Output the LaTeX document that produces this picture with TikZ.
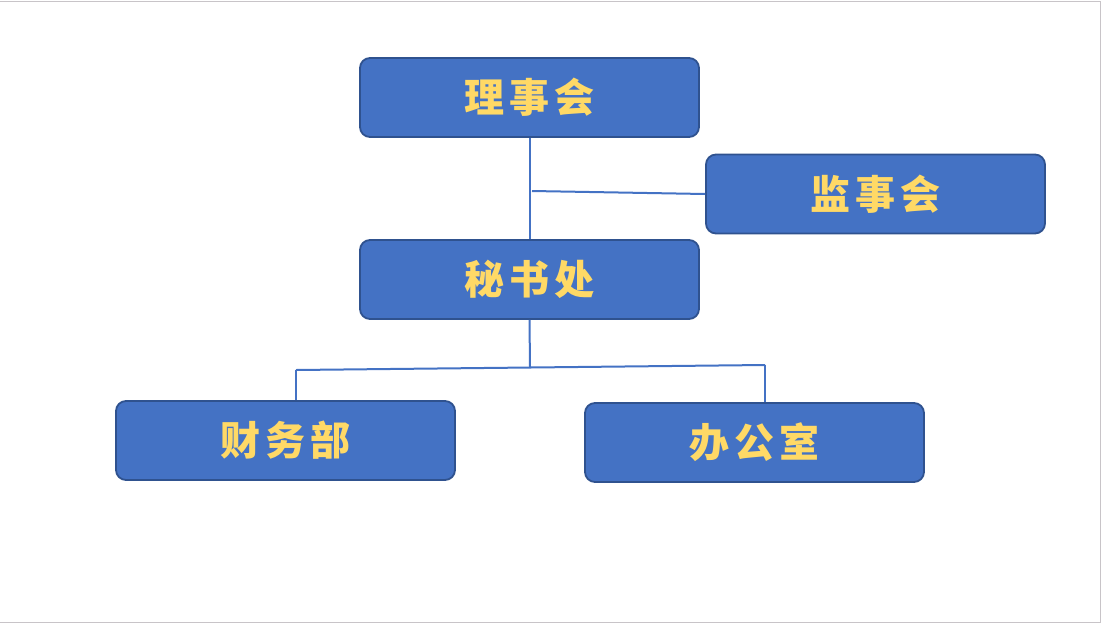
\documentclass[tikz,border=0pt]{standalone}
\usepackage{fontspec}
\newfontfamily\cjk[BoldFont={Noto Sans CJK SC Black},LetterSpace=12]{Noto Sans CJK SC}
\usetikzlibrary{positioning}
\definecolor{boxblue}{HTML}{4472C4}
\definecolor{boxedge}{HTML}{2F528F}
\definecolor{boxtext}{HTML}{FFD966}
\definecolor{slideedge}{HTML}{C8C4C8}
\tikzset{
	unit/.style={draw=boxedge,line width=1.8pt,fill=boxblue,rounded corners=10pt,
		minimum width=339pt,minimum height=79pt,inner sep=0pt,
		text=boxtext,font=\cjk\bfseries\fontsize{40}{44}\selectfont},
	link/.style={draw=boxblue,line width=2pt}
}
\begin{document}
\begin{tikzpicture}[x=1pt,y=-1pt]
				\useasboundingbox (0,0) rectangle (1102,624);
				%Slide
				\draw[slideedge,line width=1.5pt] (0,1.5) -- (1100.5,1.5) -- (1100.5,622.5) -- (0,622.5);
				%Nodes
				\node[unit] 	 (lsh) 	at 	(529.5,97.5) 	{理事会};
				\node[unit] 	 (jsh) 	at 	(875.5,194) 	{监事会};
				\node[unit] 	 (msc) 	at 	(529.5,279.5) 	{秘书处};
				\node[unit] 	 (cwb) 	at 	(285.5,440.5) 	{财务部};
				\node[unit] 	 (bgs) 	at 	(754.5,442.5) 	{办公室};
				\coordinate      (j1) 	at 	(532,191);
				\coordinate      (j2) 	at 	(530,367.5);
				\coordinate      (c1) 	at 	(296,370);
				\coordinate      (c2) 	at 	(765,365);
				
				%Lines
				\draw[link] (lsh.south) -- (msc.north);
				\draw[link] (j1) -- (jsh.west);
				\draw[link] (msc.south) -- (j2);
				\draw[link] (c1) -- (c2);
				\draw[link] (c1) -- (c1 |- cwb.north);
				\draw[link] (c2) -- (c2 |- bgs.north);
\end{tikzpicture}
\end{document}
